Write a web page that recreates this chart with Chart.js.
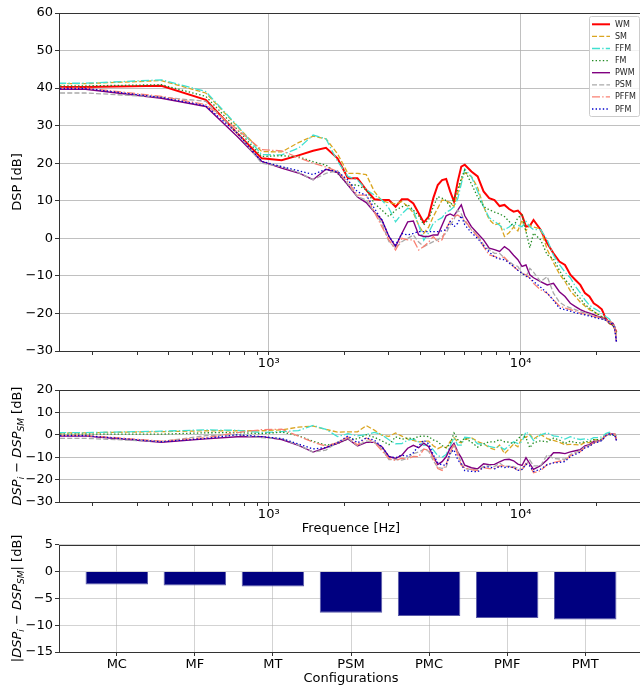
<!DOCTYPE html>
<html>
<head>
<meta charset="utf-8">
<script src="https://cdn.jsdelivr.net/npm/chart.js@4.4.0/dist/chart.umd.min.js"></script>
<style>
  body { margin: 0; width: 640px; height: 689px; overflow: hidden; background: #fff; position: relative; }
  canvas { position: absolute; left: 0; }
</style>
</head>
<body>
<canvas id="top" width="644" height="375" style="top:0px"></canvas>
<canvas id="mid" width="644" height="165" style="top:375px"></canvas>
<canvas id="bot" width="644" height="154" style="top:535px"></canvas>
<script>
// frequences (Hz) - first value sits left of the axis so the lines reach the edge
const freqs = [100, 187.5, 375, 562.5, 750, 937.5, 1125, 1312.5, 1500, 1687.5, 1875, 2062.5, 2250, 2437.5, 2625, 2812.5, 3000, 3187.5, 3375, 3562.5, 3750, 3937.5, 4125, 4312.5, 4500, 4687.5, 4875, 5062.5, 5250, 5437.5, 5625, 5812.5, 6000, 6375, 6750, 7125, 7500, 7875, 8250, 8625, 9000, 9375, 9750, 10125, 10500, 10875, 11250, 12000, 12750, 13500, 14250, 15000, 15750, 16500, 17250, 18000, 18750, 19500, 20250, 21000, 21750, 22500, 23250, 23625, 24000];

// DSP [dB] per configuration
const wm = [40.3, 40.3, 40.6, 36.9, 28.0, 21.3, 20.8, 22.1, 23.3, 24.1, 21.3, 16.0, 16.0, 12.9, 10.4, 10.2, 10.2, 8.4, 10.4, 10.4, 9.3, 6.7, 4.2, 5.8, 10.7, 14.2, 15.5, 15.8, 12.5, 9.8, 15.1, 19.1, 19.6, 17.8, 16.5, 12.5, 10.7, 10.2, 8.6, 8.9, 7.8, 7.1, 7.4, 6.2, 3.1, 3.3, 4.9, 2.3, -1.3, -4.0, -6.2, -7.1, -9.7, -11.1, -12.4, -14.6, -15.5, -17.3, -18.0, -18.9, -21.3, -22.6, -23.0, -23.9, -25.0];
const sm = [41.2, 41.2, 42.0, 38.7, 29.8, 23.1, 23.0, 25.5, 27.2, 26.5, 22.5, 17.3, 17.3, 17.0, 12.5, 10.0, 9.5, 9.2, 9.8, 8.5, 6.8, 3.5, 1.3, 3.0, 5.8, 8.0, 10.2, 10.0, 9.5, 8.5, 12.0, 15.5, 17.5, 16.5, 13.5, 8.5, 5.0, 3.6, 4.0, 0.5, 1.5, 3.0, 2.0, 4.9, 2.0, 3.5, 3.0, 2.5, -3.0, -6.5, -9.5, -11.5, -14.0, -15.5, -17.0, -18.0, -19.0, -19.5, -20.3, -21.0, -21.5, -22.3, -23.0, -24.0, -25.5];
const ffm = [41.3, 41.3, 42.2, 39.1, 30.0, 22.3, 22.2, 24.0, 27.5, 26.5, 20.5, 16.5, 15.5, 13.0, 11.5, 10.2, 8.0, 4.4, 6.5, 8.0, 7.5, 3.5, -0.5, 1.5, 4.0, 4.9, 5.5, 7.0, 7.5, 8.4, 10.5, 14.5, 18.5, 16.4, 12.5, 8.4, 5.5, 4.5, 3.5, 2.3, 3.0, 4.0, 3.5, 3.1, 4.5, 3.1, 2.3, 2.3, -0.4, -4.5, -7.0, -9.0, -10.5, -12.8, -14.5, -16.4, -17.8, -18.6, -19.2, -19.9, -20.8, -21.5, -22.8, -23.8, -25.5];
const fm = [40.6, 40.6, 40.9, 37.8, 29.0, 21.8, 22.0, 21.7, 20.4, 19.5, 17.3, 14.2, 14.2, 12.9, 9.3, 7.5, 5.8, 7.5, 8.4, 9.0, 7.5, 6.0, 3.6, 5.0, 8.4, 11.1, 10.7, 10.0, 8.5, 10.6, 13.0, 16.0, 18.2, 14.5, 11.0, 8.5, 7.6, 7.0, 6.5, 5.8, 4.5, 3.1, 5.5, 6.2, 1.8, -2.5, 1.4, -0.4, -4.4, -5.5, -8.5, -11.0, -12.5, -14.6, -16.0, -17.7, -18.5, -19.5, -20.2, -20.8, -21.5, -22.6, -23.2, -24.0, -25.5];
const pwm = [39.7, 39.7, 37.3, 35.1, 27.1, 20.5, 18.7, 17.4, 15.6, 18.4, 17.5, 14.2, 11.0, 9.5, 7.0, 4.9, 0.5, -2.2, 1.3, 4.4, 4.6, 0.9, 0.5, 0.5, 0.9, 0.9, 3.5, 6.0, 6.5, 6.0, 7.5, 8.9, 6.0, 3.1, 1.3, -0.4, -2.6, -3.0, -3.5, -2.2, -3.1, -4.5, -5.7, -7.5, -7.1, -9.7, -10.5, -11.5, -12.4, -12.0, -14.2, -15.5, -17.3, -18.2, -19.0, -19.5, -19.9, -20.3, -20.8, -21.2, -21.6, -22.2, -22.6, -23.5, -27.5];
const psm = [38.7, 38.7, 37.6, 36.5, 28.0, 20.0, 19.1, 17.5, 15.6, 17.3, 18.0, 14.5, 11.1, 10.2, 7.0, 4.0, -0.9, -2.6, -0.9, 0.0, 0.9, -1.0, -2.2, -1.5, -0.9, -0.4, 0.5, 1.4, 3.6, 5.0, 7.5, 6.5, 4.5, 2.3, 0.9, -1.7, -3.0, -4.0, -4.0, -5.3, -6.2, -7.1, -7.5, -9.3, -10.2, -8.0, -9.0, -11.5, -10.2, -14.6, -17.0, -18.0, -18.5, -19.0, -19.5, -19.9, -20.3, -20.8, -21.0, -21.3, -21.8, -22.4, -22.8, -23.5, -27.0];
const pffm = [40.0, 40.0, 37.8, 35.6, 29.0, 23.6, 23.3, 21.5, 20.0, 19.0, 17.8, 15.0, 11.5, 11.5, 7.0, 3.1, -0.4, -3.1, 0.0, -0.4, -0.4, -3.1, -2.2, -1.0, 0.5, -0.9, -0.4, 2.7, 4.5, 5.8, 6.2, 5.5, 4.9, 2.3, 0.5, -2.2, -4.4, -4.8, -5.3, -5.0, -6.6, -7.5, -8.5, -9.3, -9.7, -10.6, -12.0, -13.7, -14.6, -16.4, -18.0, -18.6, -19.0, -19.4, -19.9, -20.2, -20.5, -20.8, -21.0, -21.3, -21.7, -22.0, -22.6, -23.5, -26.5];
const pfm = [39.9, 39.9, 37.5, 35.3, 28.0, 20.5, 19.1, 18.0, 17.0, 18.4, 17.8, 15.5, 12.4, 11.5, 8.0, 4.9, 0.5, -1.8, 1.3, 0.9, 1.3, 1.8, 1.8, 1.8, 1.8, 1.8, 2.0, 2.3, 4.5, 3.1, 4.0, 6.0, 3.6, 1.5, 0.0, -2.0, -3.6, -5.0, -5.5, -5.7, -6.5, -7.5, -8.5, -9.3, -10.0, -10.6, -11.5, -13.0, -14.6, -16.5, -18.6, -19.0, -19.4, -19.8, -20.1, -20.4, -20.7, -21.0, -21.3, -21.5, -21.8, -22.3, -23.0, -24.0, -27.5];

const names = ['WM', 'SM', 'FFM', 'FM', 'PWM', 'PSM', 'PFFM', 'PFM'];
const series = [wm, sm, ffm, fm, pwm, psm, pffm, pfm];

// ecart moyen par configuration
const configs = ['MC', 'MF', 'MT', 'PSM', 'PMC', 'PMF', 'PMT'];
const gaps = [-2.4, -2.6, -2.8, -7.7, -8.3, -8.65, -8.95];

const logTicks = [200, 300, 400, 500, 600, 700, 800, 900, 1000, 2000, 3000, 4000, 5000, 6000, 7000, 8000, 9000, 10000, 20000, 30000];

// styles des courbes
const styles = [
  { color: '#ff0000', dash: [], width: 2 },
  { color: '#daa520', dash: [5, 2.2], width: 1.3 },
  { color: '#40e0d0', dash: [8, 2.2, 1.4, 2.2], width: 1.3 },
  { color: '#228b22', dash: [1.4, 2.2], width: 1.3 },
  { color: '#800080', dash: [], width: 1.4 },
  { color: '#a9a9a9', dash: [5, 2.2], width: 1.3 },
  { color: '#fa8072', dash: [8, 2.2, 1.4, 2.2], width: 1.3 },
  { color: '#0000cd', dash: [1.4, 2.2], width: 1.3 }
];

Chart.defaults.font.family = '"DejaVu Sans"';
Chart.defaults.font.size = 13;
Chart.defaults.color = '#000';

const minus = v => (v < 0 ? '\u2212' + Math.abs(v) : String(v));

function lineSet(values, i) {
  const st = styles[i];
  return {
    label: names[i],
    data: values.map((v, j) => ({ x: freqs[j], y: v })),
    borderColor: st.color,
    borderDash: st.dash,
    borderWidth: st.width,
    pointRadius: 0,
    tension: 0,
    fill: false,
    order: -i
  };
}

function freqAxis(h) {
  return {
    type: 'logarithmic', min: 147, max: 30600,
    afterBuildTicks: s => { s.ticks = logTicks.filter(v => v >= s.min && v <= s.max).map(v => ({ value: v })); },
    afterFit: s => { s.height = h; },
    ticks: {
      autoSkip: false, maxRotation: 0, padding: 1,
      callback: v => (v === 1000 ? '10\u00b3' : v === 10000 ? '10\u2074' : '')
    },
    grid: {
      color: c => (c.tick && (c.tick.value === 1000 || c.tick.value === 10000)) ? '#b0b0b0' : 'rgba(0,0,0,0)',
      lineWidth: 0.8, tickColor: '#000', tickLength: 4
    },
    border: { display: false }
  };
}

function dbAxis(min, max, step) {
  return {
    min: min, max: max,
    afterFit: s => { s.width = 59; },
    ticks: { stepSize: step, padding: 2, callback: v => minus(v) },
    grid: { color: '#b0b0b0', lineWidth: 0.8, tickColor: '#000', tickLength: 4 },
    border: { display: false }
  };
}

// cadre noir autour de la zone de tracé
const frame = {
  id: 'frame',
  afterDraw(chart) {
    const a = chart.chartArea, ctx = chart.ctx;
    ctx.save();
    ctx.strokeStyle = '#333';
    ctx.lineWidth = 1;
    ctx.strokeRect(Math.round(a.left) + 0.5, Math.round(a.top) + 0.5, Math.round(a.right - a.left), Math.round(a.bottom - a.top));
    ctx.restore();
  }
};

// texte vertical avec indices
function drawMath(ctx, parts, cx, cy) {
  ctx.save();
  ctx.translate(cx, cy);
  ctx.rotate(-Math.PI / 2);
  ctx.fillStyle = '#000';
  ctx.textBaseline = 'alphabetic';
  let w = 0;
  parts.forEach(p => { ctx.font = p.f; w += ctx.measureText(p.t).width; });
  let x = -w / 2;
  parts.forEach(p => {
    ctx.font = p.f;
    ctx.fillText(p.t, x, p.dy);
    x += ctx.measureText(p.t).width;
  });
  ctx.restore();
}

const N = '13px "DejaVu Sans"', I = 'italic 13px "DejaVu Sans"', S = 'italic 9px "DejaVu Sans"';
const diffLabel = [
  { t: 'DSP', f: I, dy: 4.5 }, { t: 'i', f: S, dy: 7.5 }, { t: ' \u2212 ', f: N, dy: 4.5 },
  { t: 'DSP', f: I, dy: 4.5 }, { t: 'SM', f: S, dy: 7.5 }, { t: ' [dB]', f: N, dy: 4.5 }
];
const absLabel = [
  { t: '|', f: N, dy: 4.5 }, { t: 'DSP', f: I, dy: 4.5 }, { t: 'i', f: S, dy: 7.5 }, { t: ' \u2212 ', f: N, dy: 4.5 },
  { t: 'DSP', f: I, dy: 4.5 }, { t: 'SM', f: S, dy: 7.5 }, { t: '|', f: N, dy: 4.5 }, { t: ' [dB]', f: N, dy: 4.5 }
];

function titles(yParts, xText) {
  return {
    id: 'titles',
    afterDraw(chart) {
      const a = chart.chartArea, ctx = chart.ctx;
      drawMath(ctx, yParts, 16, (a.top + a.bottom) / 2);
      if (xText) {
        ctx.save();
        ctx.font = N;
        ctx.fillStyle = '#000';
        ctx.textAlign = 'center';
        ctx.textBaseline = 'middle';
        ctx.fillText(xText, (a.left + a.right) / 2, a.bottom + 27);
        ctx.restore();
      }
    }
  };
}

// légende dans le coin haut droit
const legendBox = {
  id: 'legendBox',
  afterDraw(chart) {
    const a = chart.chartArea, ctx = chart.ctx;
    const w = 50, h = 100, x0 = a.right - 4 - w, y0 = a.top + 3;
    ctx.save();
    ctx.fillStyle = 'rgba(255,255,255,0.8)';
    ctx.strokeStyle = '#cccccc';
    ctx.lineWidth = 1;
    ctx.beginPath();
    ctx.roundRect(x0 + 0.5, y0 + 0.5, w, h, 2);
    ctx.fill();
    ctx.stroke();
    ctx.font = '8px "DejaVu Sans"';
    ctx.textBaseline = 'middle';
    names.forEach((n, i) => {
      const y = y0 + 8.3 + i * 12.1;
      const st = styles[i];
      ctx.strokeStyle = st.color;
      ctx.lineWidth = st.width;
      ctx.setLineDash(st.dash);
      ctx.beginPath();
      ctx.moveTo(x0 + 3, y);
      ctx.lineTo(x0 + 21, y);
      ctx.stroke();
      ctx.setLineDash([]);
      ctx.fillStyle = '#222';
      ctx.fillText(n, x0 + 26, y + 0.5);
    });
    ctx.restore();
  }
};

const common = { responsive: false, animation: false, devicePixelRatio: 1, plugins: { legend: { display: false }, tooltip: { enabled: false } } };

new Chart(document.getElementById('top'), {
  type: 'line',
  data: { datasets: series.map((s, i) => lineSet(s, i)) },
  options: Object.assign({}, common, {
    layout: { padding: { top: 13, right: 1, left: 0, bottom: 0 } },
    scales: { x: freqAxis(24), y: dbAxis(-30, 60, 10) }
  }),
  plugins: [frame, titles([{ t: 'DSP [dB]', f: N, dy: 4.5 }], null), legendBox]
});

// écarts par rapport à la référence
const diffs = series.map(s => s.map((v, j) => +(v - wm[j]).toFixed(2)));

new Chart(document.getElementById('mid'), {
  type: 'line',
  data: { datasets: diffs.map((s, i) => lineSet(s, i)).slice(1) },
  options: Object.assign({}, common, {
    layout: { padding: { top: 15, right: 1, left: 0, bottom: 0 } },
    scales: { x: freqAxis(38), y: dbAxis(-30, 20, 10) }
  }),
  plugins: [frame, titles(diffLabel, 'Frequence [Hz]')]
});

new Chart(document.getElementById('bot'), {
  type: 'bar',
  data: {
    datasets: [{
      data: configs.map((c, i) => ({ x: i, y: gaps[i] })),
      backgroundColor: '#000080',
      borderColor: '#5a5aa8',
      borderWidth: 1,
      barPercentage: 1,
      categoryPercentage: 0.8
    }]
  },
  options: Object.assign({}, common, {
    layout: { padding: { top: 5, right: 1, left: 0, bottom: 0 } },
    scales: {
      x: {
        type: 'linear', min: -0.74, max: 6.74, offset: false, z: 1,
        afterBuildTicks: s => { s.ticks = configs.map((c, i) => ({ value: i })); },
        afterFit: s => { s.height = 37; },
        ticks: { autoSkip: false, maxRotation: 0, padding: 1, callback: v => configs[v] },
        grid: { offset: false, color: 'rgba(176,176,176,0.7)', lineWidth: 0.8, tickColor: '#000', tickLength: 4 },
        border: { display: false }
      },
      y: Object.assign(dbAxis(-15, 5, 5), { z: 1, grid: { color: 'rgba(176,176,176,0.7)', lineWidth: 0.8, tickColor: '#000', tickLength: 4 } })
    }
  }),
  plugins: [frame, titles(absLabel, 'Configurations')]
});
</script>
</body>
</html>
